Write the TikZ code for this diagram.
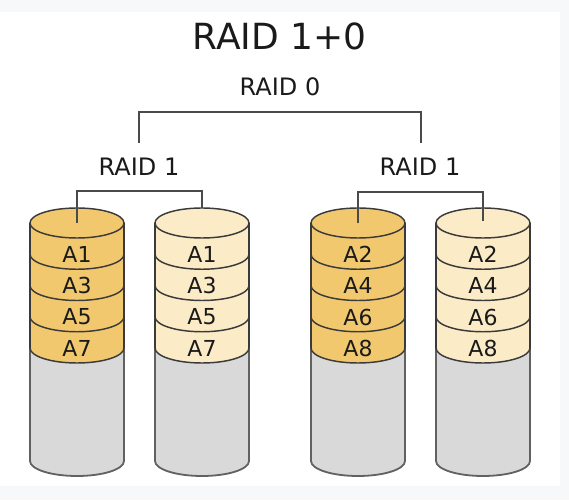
\documentclass[tikz,border=0pt]{standalone}
\usepackage{fontspec}
\setmainfont{DejaVu Sans}
\definecolor{bgout}{HTML}{F7F8FA}
\definecolor{gold}{HTML}{F2C86F}
\definecolor{pale}{HTML}{FBEBC7}
\definecolor{disk}{HTML}{D9D9D9}
\definecolor{edge}{HTML}{3A3A3A}
\definecolor{wire}{HTML}{4A4A4A}
\definecolor{ink}{HTML}{1A1A1A}
\tikzset{
  cyledge/.style={draw=edge,line width=1.45pt},
  wireline/.style={draw=wire,line width=1.6pt},
  blocklbl/.style={font=\fontsize{22}{22}\selectfont,text=ink,inner sep=0pt},
  grouplbl/.style={font=\fontsize{24}{24}\selectfont,text=ink,inner sep=0pt},
  titlelbl/.style={font=\fontsize{36}{36}\selectfont,text=ink,inner sep=0pt}
}
% #1 = centre x, #2 = colour, #3 = name, #4..#7 = labels
\newcommand\raidcyl[7]{%
  \fill[disk] (#1-47,152) -- (#1-47,39) arc[start angle=180,end angle=360,x radius=47,y radius=15] -- (#1+47,152) -- cycle;
  \draw[cyledge,draw=edge!80,line width=1.8pt] (#1-47,152) -- (#1-47,39) arc[start angle=180,end angle=360,x radius=47,y radius=15] -- (#1+47,152);
  \fill[#2] (#1-47,277) -- (#1-47,152) arc[start angle=180,end angle=360,x radius=47,y radius=15] -- (#1+47,277) -- cycle;
  \draw[cyledge] (#1-47,277) -- (#1-47,152);
  \draw[cyledge] (#1+47,277) -- (#1+47,152);
  \foreach \yy in {245.75,214.5,183.25,152}{
    \draw[cyledge] (#1-47,\yy) arc[start angle=180,end angle=360,x radius=47,y radius=15];
  }
  \filldraw[fill=#2,cyledge] (#1,277) ellipse[x radius=47,y radius=15];
  \coordinate (#3c) at (#1,277);
  \coordinate (#3t) at (#1,292);
  \node[blocklbl] (#3a) at (#1,245.4) {#4};
  \node[blocklbl] (#3b) at (#1,214.1) {#5};
  \node[blocklbl] (#3d) at (#1,182.9) {#6};
  \node[blocklbl] (#3e) at (#1,151.6) {#7};
}
\begin{document}
\begin{tikzpicture}[x=1pt,y=1pt]
\useasboundingbox (0,0) rectangle (569,500);
\fill[bgout] (0,0) rectangle (569,500);
\fill[white] (0,14) rectangle (560,488);

\raidcyl{77}{gold}{cyla}{A1}{A3}{A5}{A7}
\raidcyl{202}{pale}{cylb}{A1}{A3}{A5}{A7}
\raidcyl{358}{gold}{cylc}{A2}{A4}{A6}{A8}
\raidcyl{483}{pale}{cyld}{A2}{A4}{A6}{A8}

\node[titlelbl] (title) at (279.5,463.5) {RAID 1+0};
\node[grouplbl] (raid0) at (280,413) {RAID 0};
\node[grouplbl] (raid1l) at (139,333) {RAID 1};
\node[grouplbl] (raid1r) at (420,333) {RAID 1};

\coordinate (bar0) at (280,388);
\coordinate (r0l) at (139,357);
\coordinate (r0r) at (421,357);
\draw[wireline] (r0l) |- (bar0) -| (r0r);

\coordinate (bar1) at (139,309);
\draw[wireline] (cylac) |- (bar1) -| (cylbt);
\coordinate (bar2) at (420,308);
\coordinate (cyldm) at (483,279);
\draw[wireline] (cylcc) |- (bar2) -| (cyldm);
\end{tikzpicture}
\end{document}
